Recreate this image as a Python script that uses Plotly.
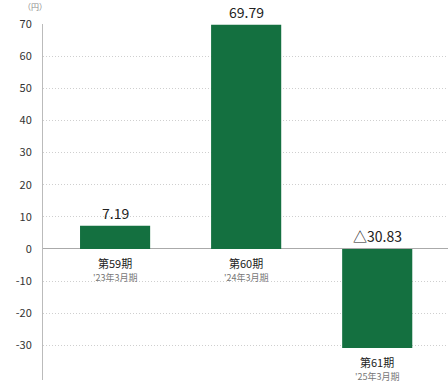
import plotly.graph_objects as go

periods = ["第59期", "第60期", "第61期"]
sub_labels = ["'23年3月期", "'24年3月期", "'25年3月期"]
values = [7.19, 69.79, -30.83]
value_labels = ["7.19", "69.79", "△30.83"]
y_ticks = [-30, -20, -10, 0, 10, 20, 30, 40, 50, 60, 70]
y_tick_text = ["-30", "-20", "-10", "0", "10", "20", "30", "40", "50", "60", "70"]

GREEN = "#147040"
FONT = "Noto Sans CJK JP, Roboto, sans-serif"
x = list(range(len(values)))

fig = go.Figure()
fig.add_trace(go.Bar(x=x, y=values, width=0.535, marker_color=GREEN,
                     marker_line_width=0, hoverinfo="skip"))

ann = []
for i, v in enumerate(values):
    top = max(v, 0)
    bottom = min(v, 0)
    ann.append(dict(x=i, y=top, yref="y", xref="x", text=value_labels[i],
                    showarrow=False, yanchor="bottom", yshift=1,
                    font=dict(size=14, color="#222", family=FONT)))
    ann.append(dict(x=i, y=bottom, yref="y", xref="x", text=periods[i],
                    showarrow=False, yanchor="top", yshift=-4,
                    font=dict(size=11, color="#222", family=FONT)))
    ann.append(dict(x=i, y=bottom, yref="y", xref="x", text=sub_labels[i],
                    showarrow=False, yanchor="top", yshift=-20,
                    font=dict(size=9, color="#777", family=FONT)))
ann.append(dict(x=-0.02, y=1.0, xref="paper", yref="paper", text="（円）",
                showarrow=False, xanchor="center", yanchor="middle", yshift=18,
                font=dict(size=8, color="#888", family=FONT)))

fig.update_layout(
    width=448, height=385,
    margin=dict(l=43, r=0, t=24, b=5),
    paper_bgcolor="white", plot_bgcolor="white",
    showlegend=False,
    annotations=ann,
    xaxis=dict(range=[-0.55, 2.54], showticklabels=False, showgrid=False,
               zeroline=False, showline=False, fixedrange=True),
    yaxis=dict(range=[-40.8, 70], tickvals=y_ticks, ticktext=y_tick_text,
               showgrid=True,
               gridcolor="#cfcfcf", griddash="1px,2px", gridwidth=1,
               zeroline=True, zerolinecolor="#aaaaaa", zerolinewidth=1,
               showline=True, linecolor="#bbbbbb", linewidth=1,
               ticks="", ticklabelstandoff=8, automargin=False,
               tickfont=dict(size=11, color="#333", family=FONT)),
)
fig.write_html("out.html", config={"displayModeBar": False},
               post_script="document.body.style.margin='0';document.body.style.overflow='hidden';")
